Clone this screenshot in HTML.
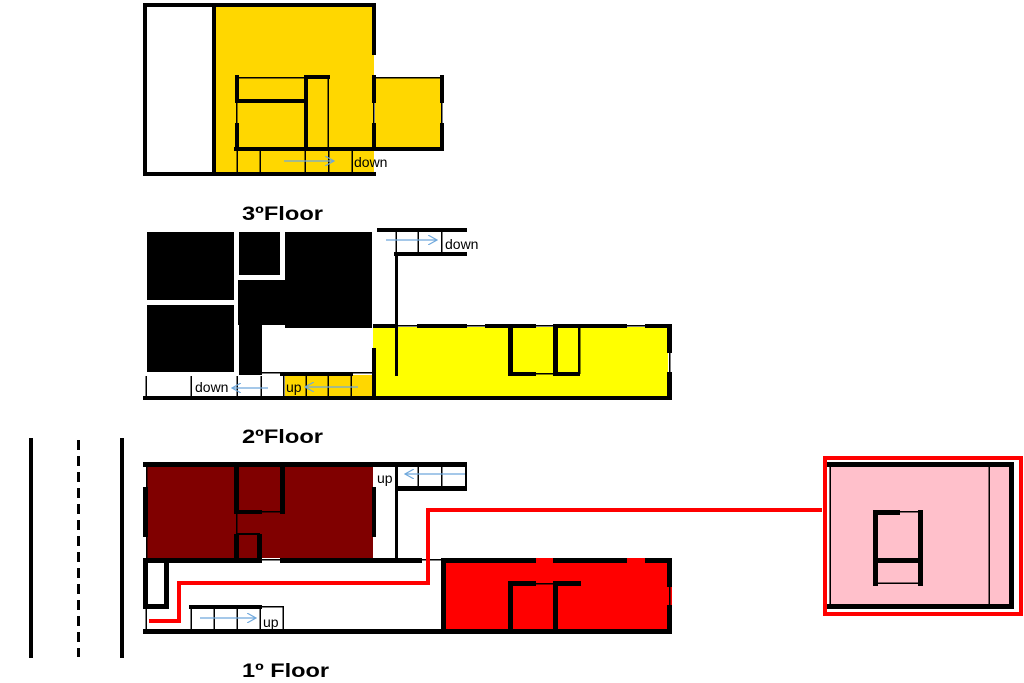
<!DOCTYPE html>
<html><head><style>
html,body{margin:0;padding:0;background:#fff;}
svg{display:block;}
text{font-family:"Liberation Sans",sans-serif;}
</style></head><body>
<svg width="1024" height="683" viewBox="0 0 1024 683" xmlns="http://www.w3.org/2000/svg">
<defs>
<marker id="ar" viewBox="0 0 10 10" refX="9" refY="5" markerWidth="10" markerHeight="10" orient="auto" markerUnits="userSpaceOnUse"><path d="M0,0 L9,5 L0,10" fill="none" stroke="#6fa8dc" stroke-width="1.2"/></marker>
</defs>

<!-- 3rd floor -->
<rect x="216" y="7" width="158" height="165" fill="#FFD700"/>
<rect x="375" y="78" width="66" height="72" fill="#FFD700"/>
<g fill="#000">
<rect x="143" y="3" width="233" height="4"/>
<rect x="143" y="3" width="4" height="173"/>
<rect x="143" y="172" width="233" height="4"/>
<rect x="212" y="3" width="4" height="173"/>
<rect x="372" y="3" width="4" height="52"/>
<rect x="372" y="75" width="4" height="28"/>
<rect x="373" y="103" width="1.5" height="20"/>
<rect x="372" y="123" width="4" height="27"/>
<rect x="376" y="77" width="66" height="1.5"/>
<rect x="440" y="75" width="4" height="28"/>
<rect x="441" y="103" width="1.5" height="20"/>
<rect x="440" y="123" width="4" height="28"/>
<rect x="234" y="147" width="210" height="4"/>
<rect x="235" y="75" width="4" height="28"/>
<rect x="236" y="103" width="1.5" height="20"/>
<rect x="235" y="123" width="4" height="27"/>
<rect x="235" y="99" width="70" height="4"/>
<rect x="238" y="77" width="67" height="1.5"/>
<rect x="304" y="75" width="4" height="74"/>
<rect x="304" y="75" width="26" height="4"/>
<rect x="327.5" y="78" width="1.5" height="70"/>
<rect x="236.5" y="151" width="1.5" height="21"/>
<rect x="259.5" y="151" width="1.5" height="21"/>
<rect x="304.5" y="151" width="1.5" height="21"/>
<rect x="328" y="151" width="1.5" height="21"/>
<rect x="351.5" y="151" width="1.5" height="21"/>
</g>
<line x1="284" y1="161" x2="334" y2="161" stroke="#6fa8dc" stroke-width="1.2" marker-end="url(#ar)"/>
<text x="354" y="167" font-size="14">down</text>
<text x="242" y="220" font-size="19" font-weight="bold" textLength="81" lengthAdjust="spacingAndGlyphs">3ºFloor</text>

<!-- 2nd floor -->
<rect x="373" y="327" width="295" height="70" fill="#FFFF00"/>
<rect x="285" y="375" width="88" height="21" fill="#FFD700"/>
<g fill="#000">
<rect x="147" y="232" width="87" height="68"/>
<rect x="147" y="305" width="87" height="67"/>
<rect x="239" y="232" width="41" height="43"/>
<rect x="285" y="232" width="87" height="96"/>
<rect x="238" y="280" width="50" height="45"/>
<rect x="239" y="325" width="23" height="50"/>
<rect x="143" y="396" width="529" height="4"/>
<rect x="145.5" y="376" width="1.5" height="20"/>
<rect x="190.5" y="376" width="1.5" height="20"/>
<rect x="236.5" y="376" width="1.5" height="20"/>
<rect x="260.5" y="376" width="1.5" height="20"/>
<rect x="262" y="372" width="110" height="1.5"/>
<rect x="280" y="372" width="73" height="4"/>
<rect x="283" y="375" width="1.5" height="21"/>
<rect x="305.5" y="376" width="1.5" height="20"/>
<rect x="327.5" y="376" width="1.5" height="20"/>
<rect x="350.5" y="376" width="1.5" height="20"/>
<rect x="372" y="348" width="4" height="50"/>
<rect x="377" y="228" width="90" height="4"/>
<rect x="394" y="252" width="73" height="4"/>
<rect x="395.5" y="232" width="1.5" height="20"/>
<rect x="417.5" y="232" width="1.5" height="20"/>
<rect x="441" y="232" width="1.5" height="20"/>
<rect x="395" y="256" width="3" height="120"/>
<rect x="373" y="325" width="297" height="1.5"/>
<rect x="373" y="324" width="24" height="4"/>
<rect x="417" y="324" width="50" height="4"/>
<rect x="485" y="324" width="51" height="4"/>
<rect x="553" y="324" width="74" height="4"/>
<rect x="645" y="324" width="27" height="4"/>
<rect x="667" y="324" width="5" height="29"/>
<rect x="669" y="353" width="1.5" height="19"/>
<rect x="667" y="372" width="5" height="28"/>
<rect x="508" y="324" width="5" height="52"/>
<rect x="508" y="372" width="28" height="4"/>
<rect x="536" y="373" width="17" height="1.5"/>
<rect x="553" y="372" width="27" height="4"/>
<rect x="553" y="324" width="5" height="52"/>
<rect x="578" y="324" width="2.5" height="50"/>
</g>
<rect x="262" y="277.5" width="20" height="2" fill="#fff"/>
<line x1="268" y1="388" x2="232" y2="388" stroke="#6fa8dc" stroke-width="1.2" marker-end="url(#ar)"/>
<line x1="358" y1="387" x2="305" y2="387" stroke="#6fa8dc" stroke-width="1.2" marker-end="url(#ar)"/>
<line x1="386" y1="240" x2="437" y2="240" stroke="#6fa8dc" stroke-width="1.2" marker-end="url(#ar)"/>
<text x="195" y="392" font-size="14">down</text>
<text x="286" y="392" font-size="14">up</text>
<text x="445" y="249" font-size="14">down</text>
<text x="242" y="443" font-size="19" font-weight="bold" textLength="81" lengthAdjust="spacingAndGlyphs">2ºFloor</text>

<!-- 1st floor -->
<rect x="29" y="438" width="4" height="220" fill="#000"/>
<line x1="78.5" y1="440" x2="78.5" y2="657" stroke="#000" stroke-width="3" stroke-dasharray="10,6"/>
<rect x="120" y="438" width="4" height="220" fill="#000"/>
<rect x="146" y="467" width="227" height="91" fill="#800000"/>
<rect x="441" y="558" width="231" height="72" fill="#FF0000"/>
<g fill="#000">
<rect x="143" y="462" width="324" height="5"/>
<rect x="143" y="487" width="5" height="50"/>
<rect x="146" y="467" width="1.5" height="91"/>
<rect x="372" y="487" width="4" height="50"/>
<rect x="234" y="467" width="5" height="45"/>
<rect x="236" y="512" width="1.5" height="22"/>
<rect x="234" y="534" width="5" height="24"/>
<rect x="280" y="467" width="5" height="47"/>
<rect x="234" y="510" width="28" height="4"/>
<rect x="262" y="511" width="22" height="1.5"/>
<rect x="257" y="534" width="5" height="24"/>
<rect x="236" y="533" width="24" height="2"/>
<rect x="143" y="558" width="119" height="5"/>
<rect x="262" y="559" width="18" height="1.5"/>
<rect x="280" y="558" width="142" height="5"/>
<rect x="422" y="559" width="21" height="1.5"/>
<rect x="395" y="467" width="3" height="91"/>
<rect x="395" y="486" width="72" height="5"/>
<rect x="417.5" y="467" width="1.5" height="19"/>
<rect x="441" y="467" width="1.5" height="19"/>
<rect x="465" y="467" width="2" height="19"/>
<rect x="143" y="560" width="5" height="49"/>
<rect x="164" y="560" width="5" height="49"/>
<rect x="143" y="604" width="26" height="5"/>
<rect x="145.5" y="609" width="1.5" height="21"/>
<rect x="143" y="629" width="529" height="5"/>
<rect x="189" y="605" width="73" height="4"/>
<rect x="262" y="606" width="22" height="1.5"/>
<rect x="190.5" y="609" width="1.5" height="20"/>
<rect x="213.5" y="609" width="1.5" height="20"/>
<rect x="236.5" y="609" width="1.5" height="20"/>
<rect x="259.5" y="609" width="1.5" height="20"/>
<rect x="282.5" y="607" width="1.5" height="22"/>
<rect x="441" y="558" width="5" height="75"/>
<rect x="441" y="558" width="95" height="5"/>
<rect x="553" y="558" width="74" height="5"/>
<rect x="645" y="558" width="27" height="5"/>
<rect x="667" y="558" width="5" height="29"/>
<rect x="669" y="587" width="1.5" height="18"/>
<rect x="667" y="605" width="5" height="28"/>
<rect x="508" y="581" width="5" height="50"/>
<rect x="508" y="581" width="28" height="5"/>
<rect x="536" y="583" width="17" height="1.5"/>
<rect x="553" y="581" width="28" height="5"/>
<rect x="553" y="581" width="5" height="50"/>
</g>
<line x1="465" y1="474" x2="405" y2="474" stroke="#6fa8dc" stroke-width="1.2" marker-end="url(#ar)"/>
<line x1="200" y1="618" x2="256" y2="618" stroke="#6fa8dc" stroke-width="1.2" marker-end="url(#ar)"/>
<text x="377" y="483" font-size="14">up</text>
<text x="263" y="627" font-size="14">up</text>
<polyline points="149,621 179,621 179,583 428,583 428,510 822,510" fill="none" stroke="#FF0000" stroke-width="4"/>
<text x="242" y="677" font-size="19" font-weight="bold" textLength="87" lengthAdjust="spacingAndGlyphs">1º Floor</text>

<!-- pink annex -->
<rect x="825" y="458" width="196" height="156" fill="none" stroke="#FF0000" stroke-width="4"/>
<rect x="829" y="462" width="184" height="147" fill="#FFC0CB"/>
<g fill="#000">
<rect x="827" y="462" width="187" height="5"/>
<rect x="827" y="604" width="187" height="5"/>
<rect x="1009" y="462" width="5" height="147"/>
<rect x="829.5" y="462" width="1.5" height="147"/>
<rect x="988.5" y="462" width="1.5" height="147"/>
<rect x="873" y="510" width="5" height="76"/>
<rect x="873" y="510" width="27" height="5"/>
<rect x="900" y="511" width="20" height="1.5"/>
<rect x="918" y="510" width="5" height="76"/>
<rect x="873" y="558" width="50" height="5"/>
<rect x="873" y="582.5" width="50" height="1.5"/>
</g>
</svg>
</body></html>
